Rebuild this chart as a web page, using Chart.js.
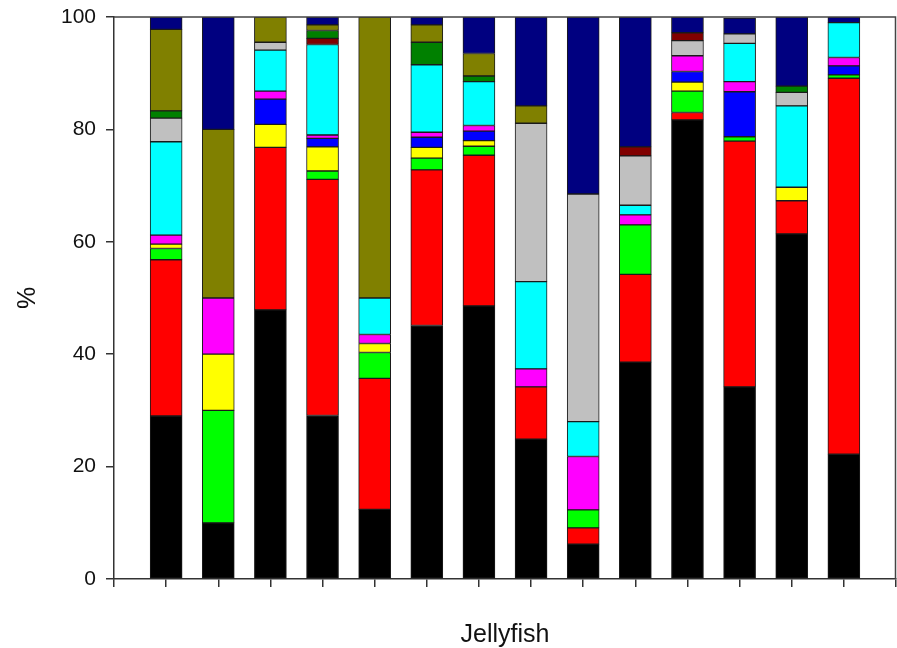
<!DOCTYPE html>
<html>
<head>
<meta charset="utf-8">
<title>Jellyfish</title>
<script src="https://cdn.jsdelivr.net/npm/chart.js@4.4.1/dist/chart.umd.min.js"></script>
<style>
  html, body { margin: 0; padding: 0; background: #fff; }
  #chart { display: block; }
</style>
</head>
<body>
<canvas id="chart" width="897" height="648"></canvas>
<script>
// 14 jellyfish samples, stacked percentages (bottom to top)
const categories = ['1', '2', '3', '4', '5', '6', '7', '8', '9', '10', '11', '12', '13', '14'];

const seriesNames = ['Group 1', 'Group 2', 'Group 3', 'Group 4', 'Group 5', 'Group 6',
  'Group 7', 'Group 8', 'Group 9', 'Group 10', 'Group 11', 'Group 12'];

const black   = [29.0, 10.0, 47.9, 29.1, 12.4, 45.1, 48.6, 24.9, 6.2, 38.6, 81.7, 34.2, 61.4, 22.2];
const red     = [27.8, 0, 28.9, 42.0, 23.3, 27.7, 26.8, 9.3, 2.9, 15.6, 1.3, 43.7, 5.9, 66.9];
const lime    = [2.0, 20.0, 0, 1.5, 4.6, 2.1, 1.6, 0, 3.2, 8.8, 3.8, 0.8, 0, 0.6];
const yellow  = [0.8, 10.0, 4.1, 4.3, 1.6, 1.9, 1.0, 0, 0, 0, 1.6, 0, 2.4, 0];
const blue    = [0, 0, 4.5, 1.5, 0, 1.8, 1.7, 0, 0, 0, 1.9, 8.0, 0, 1.6];
const magenta = [1.6, 10.0, 1.4, 0.6, 1.6, 0.9, 1.0, 3.2, 9.5, 1.8, 2.8, 1.8, 0, 1.5];
const cyan    = [16.6, 0, 7.3, 16.1, 6.5, 12.0, 7.8, 15.5, 6.2, 1.7, 0, 6.8, 14.5, 6.2];
const silver  = [4.2, 0, 1.4, 0, 0, 0, 0, 28.2, 40.5, 8.8, 2.7, 1.7, 2.4, 0];
const maroon  = [0, 0, 0, 1.1, 0, 0, 0, 0, 0, 1.6, 1.4, 0, 0, 0];
const dkgreen = [1.3, 0, 0, 1.4, 0, 4.0, 1.0, 0, 0, 0, 0, 0, 1.1, 0];
const olive   = [14.5, 30.0, 4.5, 1.0, 50.0, 3.1, 4.0, 3.1, 0, 0, 0, 0, 0, 0];
const navy    = [2.2, 20.0, 0, 1.4, 0, 1.4, 6.5, 15.8, 31.5, 23.1, 2.8, 2.8, 12.3, 1.0];

const yTicks = [0, 20, 40, 60, 80, 100];

const seriesValues = [black, red, lime, yellow, blue, magenta, cyan, silver, maroon, dkgreen, olive, navy];
const seriesColors = ['#000000', '#ff0000', '#00ff00', '#ffff00', '#0000ff', '#ff00ff',
  '#00ffff', '#c0c0c0', '#800000', '#008000', '#808000', '#000080'];

const datasets = seriesValues.map((vals, i) => ({
  label: seriesNames[i],
  data: vals.map((v, j) => ({ x: j + 1, y: v })),
  backgroundColor: seriesColors[i],
  borderColor: '#1a1a1a',
  borderWidth: 1,
  borderSkipped: false,
  barThickness: 32,
}));

const frame = {
  id: 'frame',
  afterDraw(chart) {
    const { ctx, chartArea: a } = chart;
    ctx.save();
    ctx.strokeStyle = '#444';
    ctx.lineWidth = 1.5;
    ctx.beginPath();
    ctx.moveTo(a.left, a.top);
    ctx.lineTo(a.right - 0.5, a.top);
    ctx.lineTo(a.right - 0.5, a.bottom);
    ctx.stroke();
    ctx.restore();
  }
};

const font = 'Liberation Sans, Arial, sans-serif';

new Chart(document.getElementById('chart'), {
  type: 'bar',
  data: { datasets },
  options: {
    responsive: false,
    animation: false,
    layout: { padding: { top: 17, right: 1, left: 0, bottom: 0 } },
    plugins: { legend: { display: false }, tooltip: { enabled: false } },
    scales: {
      x: {
        type: 'linear',
        stacked: true,
        offset: false,
        min: 0,
        max: categories.length + 1,
        afterBuildTicks: s => { s.ticks = Array.from({ length: categories.length + 2 }, (_, i) => ({ value: i })); },
        afterFit: s => { s.height = 69; s.paddingLeft = 0; s.paddingRight = 0; },
        ticks: { display: false },
        grid: { offset: false, drawOnChartArea: false, drawTicks: true, tickLength: 8, color: '#333', lineWidth: 1.5 },
        border: { display: true, color: '#333', width: 1.5 },
        title: { display: true, text: 'Jellyfish', color: '#111', font: { family: font, size: 25, lineHeight: 1 }, padding: { top: 0, bottom: 0 } }
      },
      y: {
        stacked: true,
        min: 0,
        max: 100,
        afterBuildTicks: s => { s.ticks = yTicks.map(v => ({ value: v })); },
        afterFit: s => { s.width = 114; s.paddingTop = 0; s.paddingBottom = 0; },
        ticks: { color: '#111', padding: 10, font: { family: font, size: 21 } },
        grid: { drawOnChartArea: false, drawTicks: true, tickLength: 8, color: '#333', lineWidth: 1.5 },
        border: { display: true, color: '#333', width: 1.5 },
        title: { display: true, text: '%', color: '#111', font: { family: font, size: 25 }, padding: { top: 13, bottom: 0 } }
      }
    }
  },
  plugins: [frame]
});
</script>
</body>
</html>
